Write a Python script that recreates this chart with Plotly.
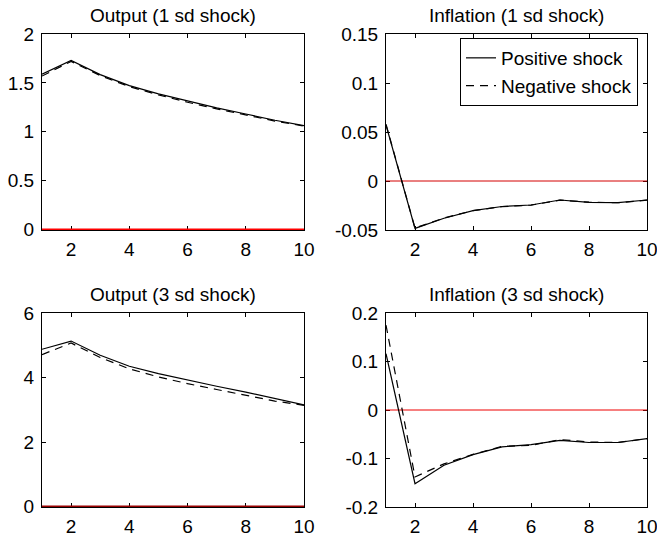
import plotly.graph_objects as go

periods = [1, 2, 3, 4, 5, 6, 7, 8, 9, 10]

output_1sd_pos = [1.59, 1.73, 1.585, 1.472, 1.387, 1.312, 1.244, 1.182, 1.118, 1.063]
output_1sd_neg = [1.57, 1.72, 1.575, 1.462, 1.378, 1.302, 1.235, 1.175, 1.110, 1.058]

infl_1sd_pos = [0.0572, -0.0484, -0.038, -0.0303, -0.026, -0.0245, -0.0194, -0.0218, -0.022, -0.0194]
infl_1sd_neg = [0.0580, -0.0480, -0.0378, -0.0302, -0.0262, -0.0246, -0.0196, -0.0216, -0.0222, -0.0195]

output_3sd_pos = [4.876, 5.13, 4.69, 4.35, 4.12, 3.92, 3.73, 3.55, 3.35, 3.15]
output_3sd_neg = [4.71, 5.07, 4.62, 4.27, 4.02, 3.81, 3.63, 3.45, 3.27, 3.14]

infl_3sd_pos = [0.116, -0.152, -0.114, -0.092, -0.076, -0.0715, -0.0625, -0.067, -0.067, -0.059]
infl_3sd_neg = [0.175, -0.138, -0.111, -0.0915, -0.075, -0.073, -0.061, -0.066, -0.067, -0.059]

zero_level = [0, 0]
zero_x = [1, 10]

titles = ["Output (1 sd shock)", "Inflation (1 sd shock)",
          "Output (3 sd shock)", "Inflation (3 sd shock)"]

x_ticks = [2, 4, 6, 8, 10]
y_ticks = [
    ([0, 0.5, 1, 1.5, 2], ["0", "0.5", "1", "1.5", "2"]),
    ([-0.05, 0, 0.05, 0.1, 0.15], ["-0.05", "0", "0.05", "0.1", "0.15"]),
    ([0, 2, 4, 6], ["0", "2", "4", "6"]),
    ([-0.2, -0.1, 0, 0.1, 0.2], ["-0.2", "-0.1", "0", "0.1", "0.2"]),
]
y_ranges = [[-0.004, 2], [-0.05, 0.15], [-0.012, 6], [-0.2, 0.2]]
zero_colors = ["#ff0000", "#d40000", "#990000", "#ee0000"]
zero_widths = [2, 1, 2, 1]

W, H = 657, 537
FONT = "Arial, Liberation Sans, sans-serif"

# panel pixel boxes (left, right, top, bottom)
boxes = [(42, 304, 34, 230), (386, 647, 34, 230),
         (42, 304, 313, 507), (386, 647, 313, 507)]

series = [
    (output_1sd_pos, output_1sd_neg),
    (infl_1sd_pos, infl_1sd_neg),
    (output_3sd_pos, output_3sd_neg),
    (infl_3sd_pos, infl_3sd_neg),
]

fig = go.Figure()
layout = dict(
    template="none",
    width=W, height=H,
    margin=dict(l=0, r=0, t=0, b=0, autoexpand=False),
    paper_bgcolor="white", plot_bgcolor="white",
    font=dict(family=FONT, size=19, color="black"),
    showlegend=True,
)
annotations = []
for i, ((pos, neg), box) in enumerate(zip(series, boxes)):
    n = i + 1
    xa = "x" if n == 1 else f"x{n}"
    ya = "y" if n == 1 else f"y{n}"
    fig.add_trace(go.Scatter(x=zero_x, y=zero_level, mode="lines",
                             line=dict(color=zero_colors[i], width=zero_widths[i]),
                             xaxis=xa, yaxis=ya, showlegend=False, hoverinfo="skip"))
    fig.add_trace(go.Scatter(x=periods, y=pos, mode="lines", name="Positive shock",
                             line=dict(color="black", width=1.2),
                             xaxis=xa, yaxis=ya, showlegend=(n == 2)))
    fig.add_trace(go.Scatter(x=periods, y=neg, mode="lines", name="Negative shock",
                             line=dict(color="black", width=1.2, dash="8px,6px"),
                             xaxis=xa, yaxis=ya, showlegend=(n == 2)))
    l, r, t, b = box
    common = dict(showline=True, linecolor="black", linewidth=1, mirror="allticks",
                  ticks="inside", ticklen=4, tickcolor="black", showgrid=False,
                  zeroline=False, layer="below traces", automargin=False,
                  ticklabeloverflow="allow",
                  tickfont=dict(family=FONT, size=19, color="black"))
    layout["xaxis" if n == 1 else f"xaxis{n}"] = dict(
        domain=[l / W, r / W], anchor=ya, range=[1, 10],
        tickvals=x_ticks, ticktext=[str(v) for v in x_ticks],
        ticklabelstandoff=2, **common)
    layout["yaxis" if n == 1 else f"yaxis{n}"] = dict(
        domain=[1 - b / H, 1 - t / H], anchor=xa, range=y_ranges[i],
        tickvals=y_ticks[i][0], ticktext=y_ticks[i][1],
        ticklabelstandoff=3, **common)
    annotations.append(dict(text=titles[i], x=(l + r) / 2 / W, y=1 - (t - 19) / H,
                            xref="paper", yref="paper", showarrow=False,
                            xanchor="center", yanchor="middle",
                            font=dict(family=FONT, size=19, color="black")))

layout["annotations"] = annotations
layout["legend"] = dict(x=638 / W, y=1 - 38 / H, xanchor="right", yanchor="top",
                        bgcolor="white", bordercolor="black", borderwidth=1,
                        font=dict(family=FONT, size=19, color="black"),
                        tracegroupgap=0, itemwidth=30)
fig.update_layout(**layout)
fig.write_html("out.html")
